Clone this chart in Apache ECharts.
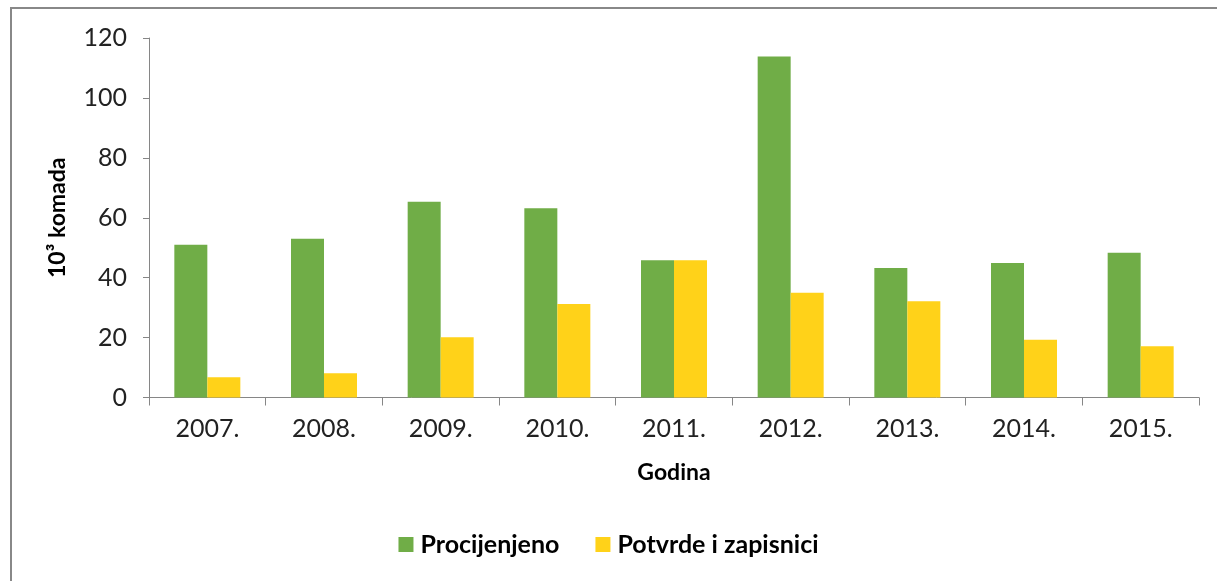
<!DOCTYPE html>
<html lang="hr">
<head>
    <meta charset="UTF-8">
    <title>Procijenjeno / Potvrde i zapisnici</title>
    <script type="text/javascript" src="https://cdn.jsdelivr.net/npm/echarts@6/dist/echarts.min.js"></script>
    <style>
        html, body { margin: 0; padding: 0; background: #fff; }
        #main { width: 1217px; height: 581px; }
    </style>
</head>
<body>
<div id="main"></div>
<script>
    // godine
    var years = ['2007.', '2008.', '2009.', '2010.', '2011.', '2012.', '2013.', '2014.', '2015.'];
    // 10^3 komada
    var procijenjeno = [51, 53, 65.3, 63.2, 45.8, 113.8, 43.2, 44.9, 48.3];
    var potvrde = [6.8, 8.1, 20.1, 31.2, 45.8, 35, 32.1, 19.3, 17.1];
    var seriesNames = ['Procijenjeno', 'Potvrde i zapisnici'];

    var font = 'Lato, "Open Sans", sans-serif';
    var axisColor = '#868686';

    var myChart = echarts.init(document.getElementById('main'));
    var option = {
        animation: false,
        textStyle: { fontFamily: font },
        graphic: [{
            type: 'rect',
            shape: { x: 11, y: 8, width: 1230, height: 600 },
            style: { fill: 'none', stroke: '#888', lineWidth: 2 },
            silent: true
        }],
        grid: { left: 149, right: 18, top: 38, bottom: 183.5 },
        legend: {
            bottom: 19,
            left: 'center',
            itemWidth: 15,
            itemHeight: 15,
            itemGap: 36,
            icon: 'rect',
            textStyle: { fontFamily: font, fontSize: 25, fontWeight: 'bold', color: '#000', padding: [0, 0, 0, 2] },
            data: seriesNames
        },
        xAxis: {
            type: 'category',
            data: years,
            name: 'Godina',
            nameLocation: 'middle',
            nameGap: 64,
            nameTextStyle: { fontFamily: font, fontSize: 23, fontWeight: 'bold', color: '#000' },
            axisLine: { lineStyle: { color: axisColor, width: 1 } },
            axisTick: { show: true, length: 8, lineStyle: { color: axisColor } },
            axisLabel: { fontSize: 25, color: '#222', margin: 19 }
        },
        yAxis: {
            type: 'value',
            min: 0,
            max: 120,
            interval: 20,
            name: '10³ komada',
            nameLocation: 'middle',
            nameGap: 80,
            nameRotate: 90,
            nameTextStyle: { fontFamily: font, fontSize: 23, fontWeight: 'bold', color: '#000' },
            splitLine: { show: false },
            axisLine: { show: true, lineStyle: { color: axisColor, width: 1 } },
            axisTick: { show: true, length: 6, lineStyle: { color: axisColor } },
            axisLabel: { fontSize: 25, color: '#222', margin: 22 }
        },
        series: [
            {
                name: seriesNames[0],
                type: 'bar',
                data: procijenjeno,
                barWidth: 33,
                barGap: '0%',
                itemStyle: { color: '#70AD47' }
            },
            {
                name: seriesNames[1],
                type: 'bar',
                data: potvrde,
                barWidth: 33,
                barGap: '0%',
                itemStyle: { color: '#FFD219' }
            }
        ]
    };
    myChart.setOption(option);
</script>
</body>
</html>
